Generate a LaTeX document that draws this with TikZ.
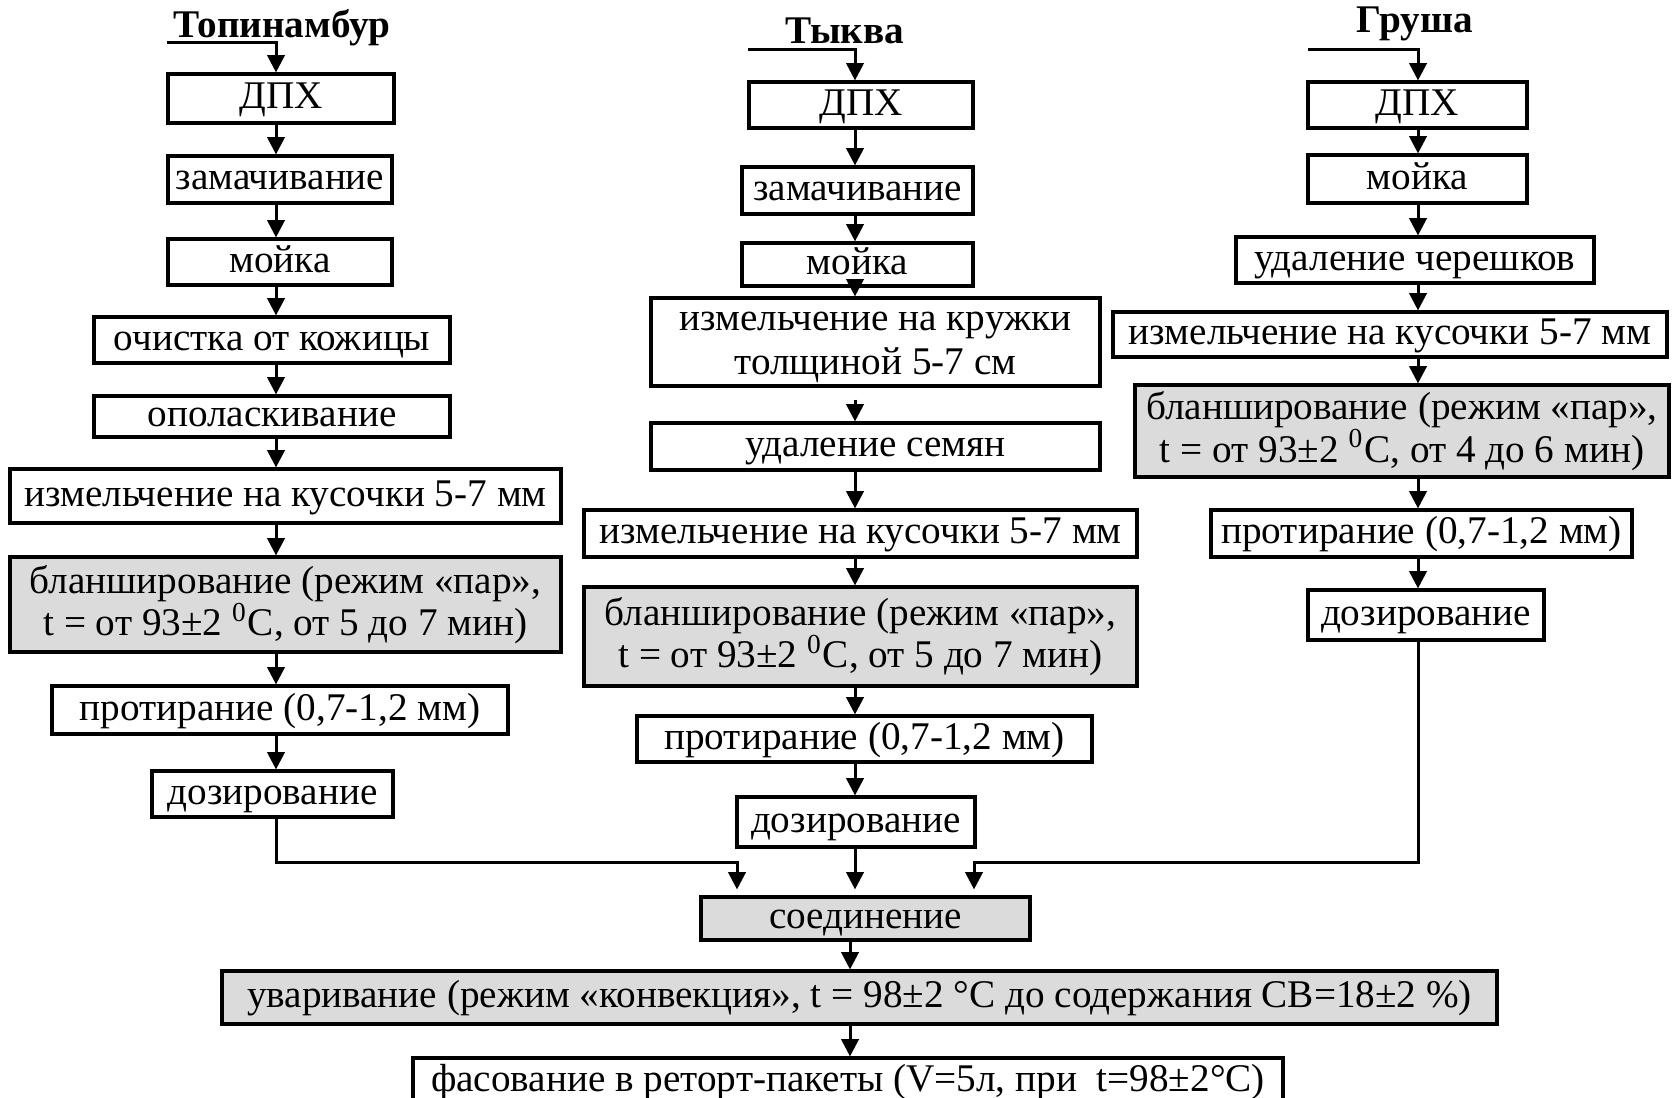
\documentclass[tikz,border=0pt]{standalone}
\usepackage{fontspec}
\setmainfont{Liberation Serif}
\usetikzlibrary{arrows.meta}

\tikzset{
  box/.style={draw, line width=0.8pt, fill=white, inner sep=0pt, align=center,
    text height=7pt, text depth=2pt,
    font=\fontsize{9.8}{10.6}\selectfont},
  gbox/.style={box, fill=gray!28},
  two/.style={text height={}, text depth={}},
  sz/.style 2 args={minimum width=#1*0.25pt, minimum height=#2*0.25pt},
  head/.style={font=\fontsize{9.8}{11}\selectfont\bfseries, anchor=base, inner sep=0pt},
}

\begin{document}
\begin{tikzpicture}[x=0.25pt, y=-0.25pt, line width=0.75pt,
  >={Triangle[length=4.3pt,width=4.3pt]}]
\useasboundingbox (0,0) rectangle (1679,1097);
% columns
\coordinate (x1) at (276,0);
\coordinate (x2) at (855,0);
\coordinate (x3) at (1418,0);
\coordinate (x4) at (850,0);
% Topinambur
\node[head] (t1) at (282,37) {Топинамбур};
\node[box, sz={226}{49}] (a1) at (281,98.5) {ДПХ};
\node[box, sz={224}{47}] (a2) at (280,179.5) {замачивание};
\node[box, sz={224}{46}] (a3) at (280,262) {мойка};
\node[box, sz={356}{46}] (a4) at (272,340) {очистка от кожицы};
\node[box, sz={356}{41}] (a5) at (272,416.5) {ополаскивание};
\node[box, sz={551}{54}] (a6) at (285.5,496) {измельчение на кусочки 5-7 мм};
\node[gbox, two, sz={551}{95}] (a7) at (285.5,604.5) {бланширование (режим «пар»,\\t = от 93±2 \textsuperscript{0}C, от 5 до 7 мин)};
\node[box, sz={456}{48}] (a8) at (280,710) {протирание (0,7-1,2 мм)};
\node[box, sz={241}{46}] (a9) at (272.5,794) {дозирование};
% Tykva
\node[head] (t2) at (845,43) {Тыква};
\node[box, sz={224}{46}] (b1) at (861,105) {ДПХ};
\node[box, sz={231}{47}] (b2) at (857.5,190.5) {замачивание};
\node[box, sz={231}{43}] (b3) at (857.5,264.5) {мойка};
\node[box, sz={449}{88}, text height=18pt, text depth=2pt,
  font=\fontsize{9.8}{11}\selectfont] (b4) at (875.5,342) {измельчение на кружки\\толщиной 5-7 см};
\node[box, sz={449}{47}] (b5) at (875.5,446.5) {удаление семян};
\node[box, sz={553}{47}] (b6) at (860.5,533.5) {измельчение на кусочки 5-7 мм};
\node[gbox, two, sz={553}{99}] (b7) at (860.5,636.5) {бланширование (режим «пар»,\\t = от 93±2 \textsuperscript{0}C, от 5 до 7 мин)};
\node[box, sz={455}{46}] (b8) at (864.5,739) {протирание (0,7-1,2 мм)};
\node[box, sz={238}{50}] (b9) at (856,822) {дозирование};
% Grusha
\node[head] (t3) at (1415,32) {Груша};
\node[box, sz={219}{46}] (g1) at (1417.5,105) {ДПХ};
\node[box, sz={219}{48}] (g2) at (1417.5,179) {мойка};
\node[box, sz={358}{46}] (g3) at (1415,260) {удаление черешков};
\node[box, sz={554}{45}] (g4) at (1390,334.5) {измельчение на кусочки 5-7 мм};
\node[gbox, two, sz={534}{92}] (g5) at (1402,431) {бланширование (режим «пар»,\\t = от 93±2 \textsuperscript{0}C, от 4 до 6 мин)};
\node[box, sz={421}{47}] (g6) at (1421.5,533.5) {протирание (0,7-1,2 мм)};
\node[box, sz={236}{50}] (g7) at (1426,615) {дозирование};
% common part
\node[gbox, sz={329}{43}] (join) at (865.5,918.5) {соединение};
\node[gbox, sz={1275}{53}] (boil) at (859.5,997.5) {уваривание (режим «конвекция», t = 98±2 °C до содержания СВ=18±2 \%)};
\node[box, sz={870}{88}] (pack) at (848,1102) {};
\node[inner sep=0pt, font=\fontsize{9.8}{10.6}\selectfont] (packt) at (848,1082) {фасование в реторт-пакеты (V=5л, при\ \ t=98±2°C)};

% inputs
\coordinate (s1) at (167,42);
\coordinate (s2) at (748,49);
\coordinate (s3) at (1308,49);
\draw[->] (s1) -- (s1 -| x1) -- (a1.north -| x1);
\draw[->] (s2) -- (s2 -| x2) -- (b1.north -| x2);
\draw[->] (s3) -- (s3 -| x3) -- (g1.north -| x3);

\draw[->] (a1.south -| x1) -- (a2.north -| x1);
\draw[->] (a2.south -| x1) -- (a3.north -| x1);
\draw[->] (a3.south -| x1) -- (a4.north -| x1);
\draw[->] (a4.south -| x1) -- (a5.north -| x1);
\draw[->] (a5.south -| x1) -- (a6.north -| x1);
\draw[->] (a6.south -| x1) -- (a7.north -| x1);
\draw[->] (a7.south -| x1) -- (a8.north -| x1);
\draw[->] (a8.south -| x1) -- (a9.north -| x1);

\draw[->] (b1.south -| x2) -- (b2.north -| x2);
\draw[->] (b2.south -| x2) -- (b3.north -| x2);
\draw[->] (b3.south -| x2) -- (b4.north -| x2);
\draw[->, shorten <=3pt] (b4.south -| x2) -- (b5.north -| x2);
\draw[->] (b5.south -| x2) -- (b6.north -| x2);
\draw[->] (b6.south -| x2) -- (b7.north -| x2);
\draw[->] (b7.south -| x2) -- (b8.north -| x2);
\draw[->] (b8.south -| x2) -- (b9.north -| x2);

\draw[->] (g1.south -| x3) -- (g2.north -| x3);
\draw[->] (g2.south -| x3) -- (g3.north -| x3);
\draw[->] (g3.south -| x3) -- (g4.north -| x3);
\draw[->] (g4.south -| x3) -- (g5.north -| x3);
\draw[->] (g5.south -| x3) -- (g6.north -| x3);
\draw[->] (g6.south -| x3) -- (g7.north -| x3);

% to join
\coordinate (m1) at (737,862);
\coordinate (m3) at (974,862);
\draw[->, shorten >=1.5pt] (a9.south -| x1) |- (m1) -- (join.north -| m1);
\draw[->, shorten >=1.5pt] (b9.south -| x2) -- (join.north -| x2);
\draw[->, shorten >=1.5pt] (g7.south -| x3) |- (m3) -- (join.north -| m3);
\draw[->] (join.south -| x4) -- (boil.north -| x4);
\draw[->] (boil.south -| x4) -- (pack.north -| x4);
\end{tikzpicture}
\end{document}
